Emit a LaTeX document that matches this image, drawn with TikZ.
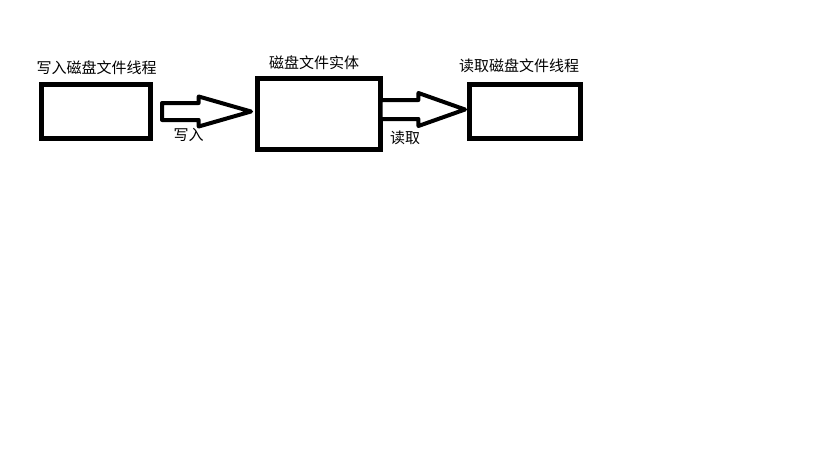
\documentclass[tikz,border=0pt]{standalone}
\usepackage{fontspec}
\setmainfont{Noto Sans CJK SC}
\usetikzlibrary{positioning,shapes.arrows}
\tikzset{
  font=\fontsize{15}{18}\selectfont,
  thread/.style={draw=black, line width=5pt, fill=white, minimum width=#1, minimum height=54pt, inner sep=0pt, outer sep=0pt},
  entity/.style={draw=black, line width=5pt, fill=white, minimum width=123pt, minimum height=71pt, inner sep=0pt, outer sep=0pt},
  hollow/.style={single arrow, draw=black, fill=white, line width=4pt, line join=round, inner xsep=0pt, outer sep=0pt},
  lbl/.style={inner sep=0pt, text=black},
}

\begin{document}
\begin{tikzpicture}[x=1pt,y=-1pt]
\useasboundingbox[fill=white] (0,0) rectangle (819,460);
% boxes
\node[thread=109pt] (wthread) at (96,111.5) {};
\node[entity, right=107pt of wthread, yshift=-2.5pt] (disk) {};
\node[thread=111pt, right=89pt of disk, yshift=2.5pt] (rthread) {};
% titles
\node[lbl, above=10pt of wthread, xshift=0.5pt] (wtitle) {写入磁盘文件线程};
\node[lbl, above=9pt of disk, xshift=-5pt] (dtitle) {磁盘文件实体};
\node[lbl, above=12pt of rthread, xshift=-6pt] (rtitle) {读取磁盘文件线程};
% hollow arrows
\node[hollow, inner ysep=6.5pt, single arrow head extend=6.5pt, single arrow tip angle=32,
      minimum height=89pt, anchor=tip, xshift=-6.5pt] (put) at (disk.west |- wthread) {};
\node[hollow, inner ysep=7.5pt, single arrow head extend=7pt, single arrow tip angle=39,
      minimum height=84.5pt, anchor=tail, yshift=2pt] (get) at (disk.east |- rthread) {};
\node[lbl] (putlbl) at (188.5,135) {写入};
\node[lbl] (getlbl) at (405,138) {读取};
\end{tikzpicture}
\end{document}
